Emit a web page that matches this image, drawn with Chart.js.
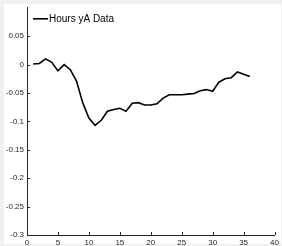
<!DOCTYPE html>
<html>
<head>
<meta charset="utf-8">
<script src="https://cdn.jsdelivr.net/npm/chart.js@4"></script>
<style>
  html, body { margin: 0; padding: 0; background: #f0f0f0; }
  #paper { position: absolute; left: 4px; top: 4px; width: 277px; height: 240px; background: #fff; }
  #chart { position: absolute; left: 0; top: 0; }
</style>
</head>
<body>
<div id="paper"></div>
<canvas id="chart" width="282" height="246"></canvas>
<script>
// hours 1..36
const hours = [1, 2, 3, 4, 5, 6, 7, 8, 9, 10, 11, 12, 13, 14, 15, 16, 17, 18,
  19, 20, 21, 22, 23, 24, 25, 26, 27, 28, 29, 30, 31, 32, 33, 34, 35, 36];
const yAData = [0.001, 0.002, 0.010, 0.004, -0.011, 0.000, -0.009, -0.029, -0.067, -0.094,
  -0.107, -0.098, -0.082, -0.079, -0.077, -0.082, -0.068, -0.067, -0.071, -0.071,
  -0.069, -0.059, -0.053, -0.053, -0.053, -0.052, -0.051, -0.046, -0.044, -0.047,
  -0.031, -0.025, -0.023, -0.013, -0.017, -0.021];
const seriesLabel = "Hours yA Data";
const xTicks = [0, 5, 10, 15, 20, 25, 30, 35, 40];
const yTicks = [-0.3, -0.25, -0.2, -0.15, -0.1, -0.05, 0, 0.05];

const axisColor = "#262626";
const font = { family: "'Liberation Sans', Arial, sans-serif", size: 8 };

// matlab style ticks pointing into the axes
const innerTicks = {
  id: "innerTicks",
  afterDraw(chart) {
    const { ctx, chartArea, scales } = chart;
    ctx.save();
    ctx.strokeStyle = axisColor;
    ctx.lineWidth = 1;
    ctx.beginPath();
    scales.x.ticks.forEach((t) => {
      const px = Math.round(scales.x.getPixelForValue(t.value)) + 0.5;
      ctx.moveTo(px, chartArea.bottom);
      ctx.lineTo(px, chartArea.bottom - 3);
    });
    scales.y.ticks.forEach((t) => {
      const py = Math.round(scales.y.getPixelForValue(t.value)) + 0.5;
      ctx.moveTo(chartArea.left, py);
      ctx.lineTo(chartArea.left + 3, py);
    });
    ctx.stroke();
    ctx.restore();
  },
};

const cornerLegend = {
  id: "cornerLegend",
  afterDraw(chart) {
    const { ctx, chartArea } = chart;
    const ds = chart.data.datasets[0];
    const y0 = chartArea.top + 11;
    ctx.save();
    ctx.strokeStyle = ds.borderColor;
    ctx.lineWidth = ds.borderWidth;
    ctx.beginPath();
    ctx.moveTo(chartArea.left + 6, y0);
    ctx.lineTo(chartArea.left + 21, y0);
    ctx.stroke();
    ctx.fillStyle = "#000";
    ctx.font = "10px 'Liberation Sans', Arial, sans-serif";
    ctx.textBaseline = "middle";
    ctx.fillText(ds.label, chartArea.left + 22, y0 + 0.5);
    ctx.restore();
  },
};

new Chart(document.getElementById("chart").getContext("2d"), {
  type: "line",
  data: {
    datasets: [
      {
        label: seriesLabel,
        data: hours.map((h, i) => ({ x: h, y: yAData[i] })),
        borderColor: "#000",
        borderWidth: 1.6,
        pointRadius: 0,
        tension: 0,
        fill: false,
      },
    ],
  },
  options: {
    responsive: false,
    devicePixelRatio: 1,
    animation: false,
    layout: { padding: { left: 0, top: 6, right: 6, bottom: 0 } },
    plugins: { legend: { display: false }, tooltip: { enabled: false } },
    scales: {
      x: {
        type: "linear",
        min: 0,
        max: 40,
        grid: { display: false, drawTicks: false, tickLength: 0 },
        border: { color: axisColor, width: 1 },
        ticks: { color: axisColor, font: font, padding: 3, maxRotation: 0 },
        afterBuildTicks: (scale) => {
          scale.ticks = xTicks.map((v) => ({ value: v }));
        },
        afterFit: (scale) => {
          scale.height = 11;
        },
      },
      y: {
        type: "linear",
        min: -0.3,
        max: 0.1,
        grid: { display: false, drawTicks: false, tickLength: 0 },
        border: { color: axisColor, width: 1 },
        ticks: {
          color: axisColor,
          font: font,
          padding: 3,
          callback: (v) => String(Math.round(v * 100) / 100),
        },
        afterBuildTicks: (scale) => {
          scale.ticks = yTicks.map((v) => ({ value: v }));
        },
        afterFit: (scale) => {
          scale.width = 27;
        },
      },
    },
  },
  plugins: [innerTicks, cornerLegend],
});
</script>
</body>
</html>
